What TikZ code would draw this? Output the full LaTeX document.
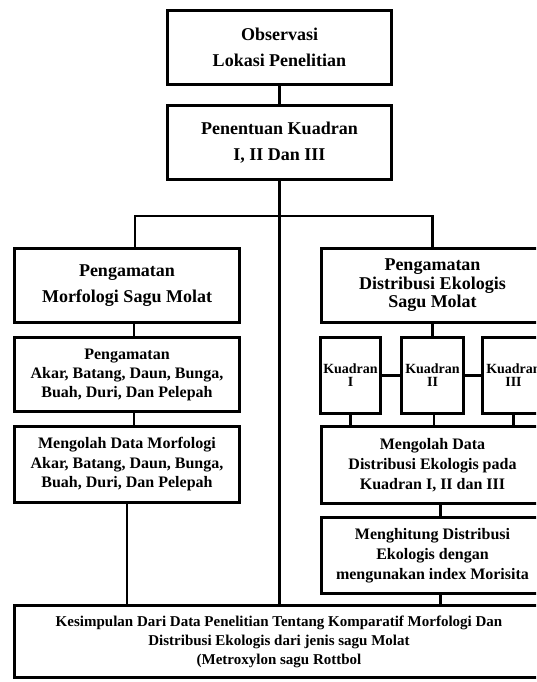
\documentclass[tikz,border=0pt]{standalone}
\usepackage{fontspec}
\setmainfont{Liberation Serif}
\usetikzlibrary{positioning}
\tikzstyle{flowbox} =[draw, align=center, inner sep=0pt, line width=2.8pt]
\tikzstyle{link} =[line width=2.8pt]

\begin{document}
\begin{tikzpicture}[x=1pt, y=-1pt]
\useasboundingbox (0,0) rectangle (536,682);
\clip (0,0) rectangle (536,682);

\node (obs) [flowbox, minimum width=224.2pt, minimum height=74.2pt, font=\fontsize{18}{26}\selectfont\bfseries] at (279.5,47.5) {Observasi\\Lokasi Penelitian};
\node (kuad) [flowbox, minimum width=224.2pt, minimum height=74.2pt, font=\fontsize{18}{26}\selectfont\bfseries, below=18pt of obs] {Penentuan Kuadran\\I, II Dan III};

% left column: morfologi
\node (morf) [flowbox, minimum width=225.2pt, minimum height=74.2pt, font=\fontsize{18}{26}\selectfont\bfseries] at (127,285.5) {Pengamatan\\Morfologi Sagu Molat};
\node (amat) [flowbox, minimum width=225.2pt, minimum height=74.2pt, font=\fontsize{16}{19}\selectfont\bfseries, below=12pt of morf] {Pengamatan\\Akar, Batang, Daun, Bunga,\\Buah, Duri, Dan Pelepah};
\node (olah) [flowbox, minimum width=225.2pt, minimum height=76.2pt, font=\fontsize{16}{19.5}\selectfont\bfseries, below=12pt of amat] {Mengolah Data Morfologi\\Akar, Batang, Daun, Bunga,\\Buah, Duri, Dan Pelepah};

% right column: distribusi
\node (dist) [flowbox, minimum width=222.2pt, minimum height=74.2pt, font=\fontsize{18}{18.5}\selectfont\bfseries] at (432.5,285.5) {Pengamatan\\Distribusi Ekologis\\Sagu Molat};
\node (kII) [flowbox, minimum width=62.2pt, minimum height=76.2pt, font=\fontsize{14}{13}\selectfont\bfseries, below=12pt of dist] {Kuadran\\II};
\node (kI) [flowbox, minimum width=60.2pt, minimum height=76.2pt, font=\fontsize{14}{13}\selectfont\bfseries, left=18pt of kII] {Kuadran\\I};
\node (kIII) [flowbox, minimum width=62.2pt, minimum height=76.2pt, font=\fontsize{14}{13}\selectfont\bfseries, right=16pt of kII] {Kuadran\\III};
\node (olahd) [flowbox, minimum width=222.2pt, minimum height=77.2pt, font=\fontsize{16}{20}\selectfont\bfseries, below=10pt of kII] {Mengolah Data\\Distribusi Ekologis pada\\Kuadran I, II dan III};
\node (hitung) [flowbox, minimum width=222.2pt, minimum height=76.2pt, font=\fontsize{16}{20}\selectfont\bfseries, below=11pt of olahd] {Menghitung Distribusi\\Ekologis dengan\\mengunakan index Morisita};

\node (simp) [flowbox, minimum width=529.2pt, minimum height=72.2pt, font=\fontsize{15}{19}\selectfont\bfseries] at (279,641.5) {Kesimpulan Dari Data Penelitian Tentang Komparatif Morfologi Dan\\Distribusi Ekologis dari jenis sagu Molat\\(Metroxylon sagu Rottbol};

\coordinate (split) at ([yshift=-35pt]kuad.south);

\draw[link] (obs) edge (kuad);
\draw[link] (kuad.south) -- (split);
\draw[link] ([xshift=8pt]morf.north) |- (split) -| (dist.north);
\draw[link] (split) -- (split |- simp.north);

\draw[link] ([xshift=7pt]morf.south) -- ([xshift=7pt]amat.north);
\draw[link] ([xshift=7pt]amat.south) -- ([xshift=7pt]olah.north);
\draw[link] (olah.south) -- (olah.south |- simp.north);

\draw[link] (dist.south) -- (dist.south |- kII.north);
\draw[link] (kI) edge (kII) (kII) edge (kIII);
\draw[link] (kI.south) -- (kI.south |- olahd.north);
\draw[link] ([xshift=1.5pt]kII.south) -- ([xshift=1.5pt]kII.south |- olahd.north);
\draw[link] (kIII.south) -- (kIII.south |- olahd.north);
\draw[link] ([xshift=8pt]olahd.south) -- ([xshift=8pt]hitung.north);
\draw[link] ([xshift=8pt]hitung.south) -- ([xshift=8pt]hitung.south |- simp.north);
\end{tikzpicture}
\end{document}
